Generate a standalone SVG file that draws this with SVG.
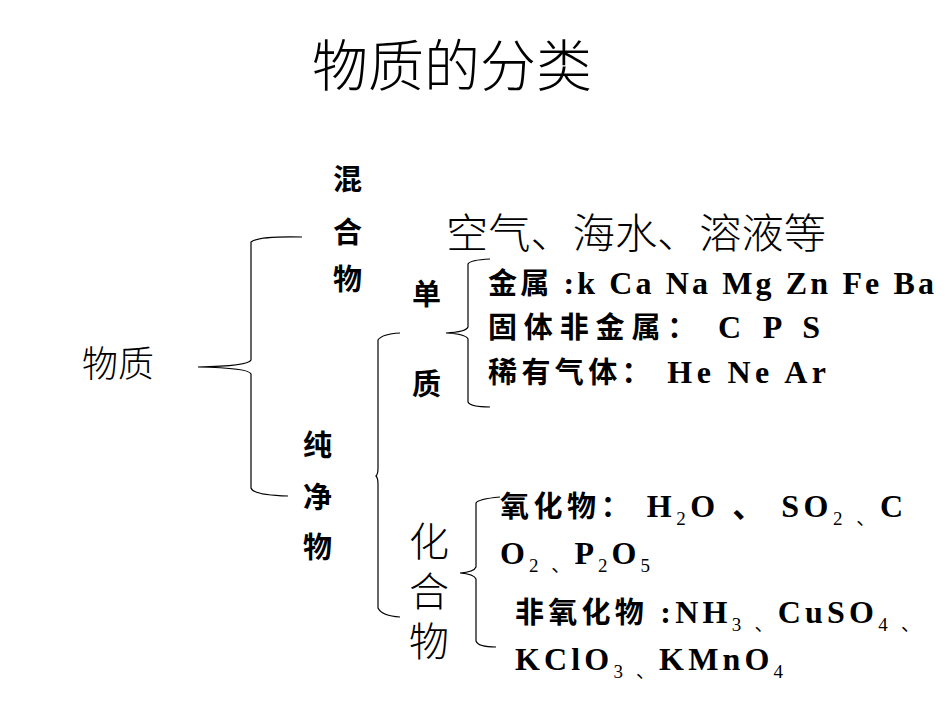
<svg xmlns="http://www.w3.org/2000/svg" width="950" height="713" viewBox="0 0 950 713">
<style>
.b{fill:none;stroke:#000;stroke-width:1.2}
.t{font-family:"Liberation Serif","Noto Sans CJK SC",serif;fill:#000}
.c{font-family:"Noto Sans CJK SC",sans-serif;font-weight:300;fill:#000}
.k{font-family:"Noto Sans CJK SC",sans-serif;font-weight:bold;fill:#000;font-size:29px}
.s{font-size:19px;font-weight:normal}
</style>
<rect width="950" height="713" fill="#fff"/>
<g id="title"><text class="c" x="452" y="86" font-size="56" text-anchor="middle">物质的分类</text></g>
<g id="connectors">
<path class="b" d="M302,237 Q258,236 251,242 L251,360 Q249,366 198,367 Q249,368 251,374 L251,488 Q253,495 288,496"/>
<path class="b" d="M400,333 Q382,334 378,340 L378,468 Q378,474 376,476 Q378,478 378,484 L378,608 Q382,616 400,617"/>
<path class="b" d="M490,259 Q470,260 468,264 L468,327 Q466,332 446,333 Q466,334 468,339 L468,402 Q470,407 490,407"/>
<path class="b" d="M500,497 Q478,499 476,503 L476,567 Q474,572 460,573 Q474,574 476,579 L476,641 Q478,647 496,647"/>
</g>
<g id="n-wuzhi"><text class="c" x="82" y="377" font-size="36">物质</text></g>
<g id="n-hunhewu" class="k" font-size="30"><text x="333" y="190">混</text><text x="333" y="243">合</text><text x="333" y="290">物</text></g>
<g id="n-hunhe-ex"><text class="c" x="446" y="248" font-size="41" textLength="380" lengthAdjust="spacingAndGlyphs">空气、海水、溶液等</text></g>
<g id="n-chunjingwu" class="k" font-size="30"><text x="303" y="456">纯</text><text x="303" y="508">净</text><text x="303" y="558">物</text></g>
<g id="n-danzhi" class="k" font-size="30"><text x="412" y="305">单</text><text x="412" y="395">质</text></g>
<g id="n-huahewu"><text class="c" font-size="40"><tspan x="409" y="556">化</tspan><tspan x="409" y="606">合</tspan><tspan x="409" y="656">物</tspan></text></g>
<g id="n-danzhi-items" font-size="32" font-weight="bold">
<text class="t" x="488" y="294" textLength="446" lengthAdjust="spacing"><tspan class="k">金属</tspan> :k Ca Na Mg Zn  Fe Ba</text>
<text class="t" x="488" y="338" textLength="332" lengthAdjust="spacing"><tspan class="k">固体非金属：</tspan> C  P  S</text>
<text class="t" x="488" y="383" textLength="338" lengthAdjust="spacing"><tspan class="k">稀有气体：</tspan> He Ne Ar</text>
</g>
<g id="n-oxides" font-size="32" font-weight="bold">
<text class="t" x="500" y="517" textLength="403" lengthAdjust="spacing"><tspan class="k">氧化物：</tspan> H<tspan class="s" dy="8">2</tspan><tspan dy="-8">O 、 SO</tspan><tspan class="s" dy="8">2 、</tspan><tspan dy="-8">C</tspan></text>
<text class="t" x="500" y="564" textLength="150" lengthAdjust="spacing">O<tspan class="s" dy="8">2 、</tspan><tspan dy="-8">P</tspan><tspan class="s" dy="8">2</tspan><tspan dy="-8">O</tspan><tspan class="s" dy="8">5</tspan></text>
</g>
<g id="n-nonoxides" font-size="32" font-weight="bold">
<text class="t" x="515" y="623" textLength="405" lengthAdjust="spacing"><tspan class="k">非氧化物</tspan> :NH<tspan class="s" dy="8">3 、</tspan><tspan dy="-8">CuSO</tspan><tspan class="s" dy="8">4 、</tspan></text>
<text class="t" x="515" y="670" textLength="268" lengthAdjust="spacing">KClO<tspan class="s" dy="8">3 、</tspan><tspan dy="-8">KMnO</tspan><tspan class="s" dy="8">4</tspan></text>
</g>
</svg>
